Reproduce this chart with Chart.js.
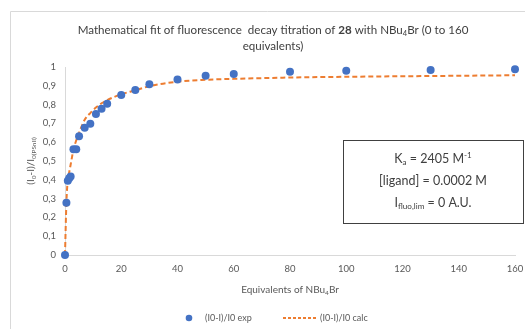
<!DOCTYPE html>
<html>
<head>
<meta charset="utf-8">
<script src="https://cdn.jsdelivr.net/npm/chart.js@4"></script>
<style>
html,body{margin:0;padding:0;background:#fff;}
#wrap{width:525px;height:329px;position:relative;}
</style>
</head>
<body>
<div id="wrap"><canvas id="c" width="525" height="329"></canvas></div>
<script>
// ---- data ----
const equivalents = [0, 0.5, 1, 1.5, 2, 3, 4, 5, 7, 9, 11, 13, 15, 20, 25, 30, 40, 50, 60, 80, 100, 130, 160];
const expValues = [0, 0.278, 0.395, 0.408, 0.417, 0.562, 0.562, 0.631, 0.677, 0.698, 0.750, 0.778, 0.805, 0.851, 0.878, 0.908, 0.934, 0.954, 0.963, 0.975, 0.980, 0.984, 0.988];
const calcValues = [0, 0.28, 0.40, 0.44, 0.48, 0.56, 0.61, 0.65, 0.72, 0.755, 0.784, 0.807, 0.824, 0.855, 0.876, 0.898, 0.922, 0.932, 0.937, 0.944, 0.948, 0.952, 0.956];
const xTicks = [0, 20, 40, 60, 80, 100, 120, 140, 160];
const yTicks = [0, 0.1, 0.2, 0.3, 0.4, 0.5, 0.6, 0.7, 0.8, 0.9, 1];
const seriesNames = ['(I0-I)/I0 exp', '(I0-I)/I0 calc'];

const FONT = 'Lato, "Liberation Sans", sans-serif';
const BLUE = '#4472C4', ORANGE = '#ED7D31', TXT = '#595959';

// rich text helper: segments [{t, s:'n'|'sub'|'sup'|'b'}]
function richWidth(ctx, segs, size) {
  let w = 0;
  for (const g of segs) {
    const sz = (g.s === 'sub' || g.s === 'sup') ? size * 0.65 : size;
    ctx.font = (g.s === 'b' ? 'bold ' : '') + sz + 'px ' + FONT;
    w += ctx.measureText(g.t).width;
  }
  return w;
}
function drawRich(ctx, segs, x, y, size, color, align) {
  const w = richWidth(ctx, segs, size);
  let cx = align === 'center' ? x - w / 2 : (align === 'right' ? x - w : x);
  ctx.fillStyle = color;
  ctx.textBaseline = 'middle';
  ctx.textAlign = 'left';
  for (const g of segs) {
    const small = (g.s === 'sub' || g.s === 'sup');
    const sz = small ? size * 0.65 : size;
    ctx.font = (g.s === 'b' ? 'bold ' : '') + sz + 'px ' + FONT;
    const dy = g.s === 'sub' ? size * 0.28 : (g.s === 'sup' ? -size * 0.3 : 0);
    ctx.fillText(g.t, cx, y + dy);
    cx += ctx.measureText(g.t).width;
  }
}

const decor = {
  id: 'decor',
  beforeDraw(chart) {
    const ctx = chart.ctx;
    ctx.save();
    ctx.strokeStyle = '#D9D9D9';
    ctx.lineWidth = 1;
    ctx.beginPath();
    ctx.moveTo(10.5, 329); ctx.lineTo(10.5, 11.5); ctx.lineTo(525, 11.5);
    ctx.stroke();
    ctx.restore();
  },
  afterDraw(chart) {
    const ctx = chart.ctx;
    const ca = chart.chartArea;
    ctx.save();
    drawRich(ctx, [
      {t: 'Mathematical fit of fluorescence  decay titration of ', s: 'n'},
      {t: '28', s: 'b'},
      {t: ' with NBu', s: 'n'}, {t: '4', s: 'sub'},
      {t: 'Br (0 to 160', s: 'n'}
    ], 273, 30, 11.6, '#404040', 'center');
    drawRich(ctx, [{t: 'equivalents)', s: 'n'}], 273, 46, 11.6, '#404040', 'center');

    ctx.save();
    ctx.translate(31, 161);
    ctx.rotate(-Math.PI / 2);
    drawRich(ctx, [
      {t: '(I', s: 'n'}, {t: '0', s: 'sub'}, {t: '-I)/I', s: 'n'}, {t: '0(PSnII)', s: 'sub'}
    ], 0, 0, 10, TXT, 'center');
    ctx.restore();

    drawRich(ctx, [
      {t: 'Equivalents of NBu', s: 'n'}, {t: '4', s: 'sub'}, {t: 'Br', s: 'n'}
    ], (ca.left + ca.right) / 2, 290, 10, TXT, 'center');

    ctx.strokeStyle = '#404040';
    ctx.lineWidth = 1;
    ctx.strokeRect(343.5, 140.5, 180, 83);
    const bx = 433;
    drawRich(ctx, [{t: 'K', s: 'n'}, {t: 'a', s: 'sub'}, {t: ' = 2405 M', s: 'n'}, {t: '-1', s: 'sup'}], bx, 159, 12.5, '#404040', 'center');
    drawRich(ctx, [{t: '[ligand] = 0.0002 M', s: 'n'}], bx, 181, 12.5, '#404040', 'center');
    drawRich(ctx, [{t: 'I', s: 'n'}, {t: 'fluo,lim', s: 'sub'}, {t: ' = 0 A.U.', s: 'n'}], bx, 203, 12.5, '#404040', 'center');

    const ly = 318;
    ctx.fillStyle = BLUE;
    ctx.beginPath(); ctx.arc(189, ly, 3.3, 0, Math.PI * 2); ctx.fill();
    drawRich(ctx, [{t: seriesNames[0], s: 'n'}], 205, ly, 9, TXT, 'left');
    ctx.strokeStyle = ORANGE;
    ctx.lineWidth = 1.8;
    ctx.setLineDash([3, 2]);
    ctx.beginPath(); ctx.moveTo(283, ly); ctx.lineTo(316, ly); ctx.stroke();
    ctx.setLineDash([]);
    drawRich(ctx, [{t: seriesNames[1], s: 'n'}], 320, ly, 9, TXT, 'left');
    ctx.restore();
  }
};

const expPts = equivalents.map((x, i) => ({x, y: expValues[i]}));
const calcPts = equivalents.map((x, i) => ({x, y: calcValues[i]}));

new Chart(document.getElementById('c'), {
  type: 'scatter',
  data: {
    datasets: [
      {label: seriesNames[0], data: expPts, backgroundColor: BLUE, borderColor: BLUE,
       pointRadius: 4, pointBorderWidth: 0, showLine: false, order: 1, clip: false},
      {label: seriesNames[1], data: calcPts, borderColor: ORANGE, backgroundColor: ORANGE,
       showLine: true, pointRadius: 0, borderWidth: 2, borderDash: [5, 3],
       cubicInterpolationMode: 'monotone', order: 2, clip: false}
    ]
  },
  options: {
    responsive: false,
    animation: false,
    layout: {padding: {left: 10, right: 10, top: 67, bottom: 30}},
    plugins: {legend: {display: false}, tooltip: {enabled: false}, title: {display: false}},
    scales: {
      x: {
        type: 'linear', min: 0, max: 160,
        afterBuildTicks: s => { s.ticks = xTicks.map(v => ({value: v})); },
        ticks: {color: TXT, font: {family: FONT, size: 9.5}, padding: 8},
        grid: {drawOnChartArea: false, drawTicks: false},
        border: {display: true, color: '#D9D9D9', width: 1},
        afterFit: s => { s.height = 44; s.paddingRight = 0; s.paddingLeft = 0; }
      },
      y: {
        type: 'linear', min: 0, max: 1,
        afterBuildTicks: s => { s.ticks = yTicks.map(v => ({value: v})); },
        ticks: {color: TXT, font: {family: FONT, size: 9.5}, padding: 9,
                callback: v => String(Math.round(v * 10) / 10).replace('.', ',')},
        grid: {drawOnChartArea: false, drawTicks: false},
        border: {display: true, color: '#D9D9D9', width: 1},
        afterFit: s => { s.width = 55; s.paddingTop = 0; s.paddingBottom = 0; }
      }
    }
  },
  plugins: [decor]
});
</script>
</body>
</html>
